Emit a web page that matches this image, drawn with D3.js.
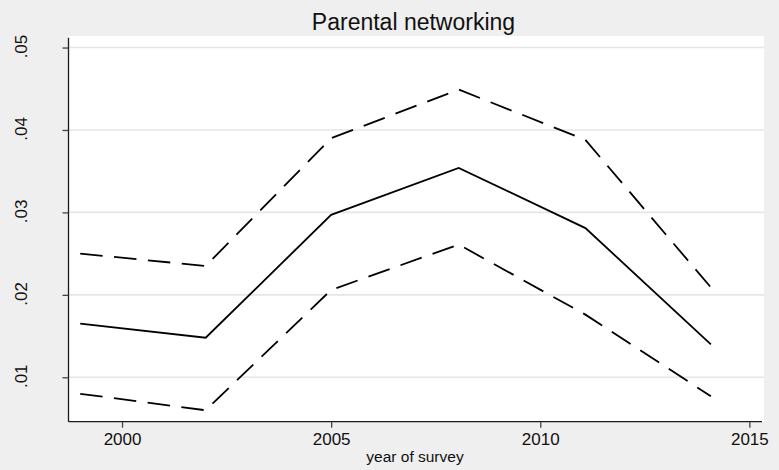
<!DOCTYPE html>
<html>
<head>
<meta charset="utf-8">
<script src="https://cdn.jsdelivr.net/npm/d3@7"></script>
<style>
  html, body { margin: 0; padding: 0; background: #efefef; }
  svg { display: block; font-family: "Liberation Sans", Arial, sans-serif; }
</style>
</head>
<body>
<svg id="chart" width="779" height="470"></svg>
<script>
// Survey years and the estimate with its upper / lower confidence bounds
const years = [1999, 2002, 2005, 2008.05, 2011.08, 2014.08];
const estimate = [0.0165, 0.0148, 0.0297, 0.0354, 0.0281, 0.0140];
const upperBound = [0.0250, 0.0235, 0.0390, 0.0449, 0.0388, 0.0209];
const lowerBound = [0.0080, 0.0060, 0.0206, 0.0261, 0.0176, 0.0077];
const xTicks = [2000, 2005, 2010, 2015];
const yTicks = [0.01, 0.02, 0.03, 0.04, 0.05];
const yTickLabels = [".01", ".02", ".03", ".04", ".05"];

const svg = d3.select("#chart");
const plot = { left: 68.5, right: 764, top: 36, bottom: 421.7 };

const x = d3.scaleLinear().domain([1998.72, 2015.35]).range([plot.left, plot.right]);
const y = d3.scaleLinear().domain([0.004612, 0.05140]).range([plot.bottom, plot.top]);

// plot region
svg.append("rect")
  .attr("x", plot.left).attr("y", plot.top)
  .attr("width", plot.right - plot.left).attr("height", plot.bottom - plot.top)
  .attr("fill", "#ffffff");

// horizontal grid
svg.append("g").selectAll("line").data(yTicks).join("line")
  .attr("x1", plot.left).attr("x2", plot.right)
  .attr("y1", d => y(d)).attr("y2", d => y(d))
  .attr("stroke", "#e6e6e6").attr("stroke-width", 1.6);

// y axis
const yAxis = svg.append("g")
  .attr("transform", `translate(${plot.left},0)`)
  .call(d3.axisLeft(y).tickValues(yTicks).tickSize(6).tickPadding(0)
    .tickFormat((d, i) => yTickLabels[i]));
yAxis.select(".domain").attr("d", `M0,${plot.top + 1.7}V${plot.bottom}`)
  .attr("stroke", "#1a1a1a").attr("stroke-width", 1.3);
yAxis.selectAll(".tick line").attr("stroke", "#444").attr("stroke-width", 1.3);
yAxis.selectAll(".tick text")
  .attr("x", null).attr("dy", null)
  .attr("text-anchor", "middle")
  .attr("transform", "translate(-42,-1.5) rotate(-90)")
  .attr("font-size", 17).attr("fill", "#111")
  .attr("font-family", "Liberation Sans, Arial, sans-serif");

// x axis
const xAxis = svg.append("g")
  .attr("transform", `translate(0,${plot.bottom})`)
  .call(d3.axisBottom(x).tickValues(xTicks).tickSize(6).tickPadding(5)
    .tickFormat(d3.format("d")));
xAxis.select(".domain").attr("d", `M${plot.left},0H${plot.right - 2}`)
  .attr("stroke", "#1a1a1a").attr("stroke-width", 1.3);
xAxis.selectAll(".tick line").attr("stroke", "#444").attr("stroke-width", 1.3);
xAxis.selectAll(".tick text")
  .attr("font-size", 17).attr("fill", "#111")
  .attr("font-family", "Liberation Sans, Arial, sans-serif");

// series
const line = d3.line().x(d => x(d[0])).y(d => y(d[1]));
const series = [
  { values: upperBound, dash: "22.5 11.5" },
  { values: lowerBound, dash: "22.5 11.5" },
  { values: estimate, dash: null }
];
svg.append("g").selectAll("path").data(series).join("path")
  .attr("d", s => line(years.map((yr, i) => [yr, s.values[i]])))
  .attr("fill", "none")
  .attr("stroke", "#000")
  .attr("stroke-width", 1.8)
  .attr("stroke-dasharray", s => s.dash);

// titles
svg.append("text")
  .attr("x", 413.5).attr("y", 29.5)
  .attr("text-anchor", "middle")
  .attr("font-size", 23).attr("fill", "#111")
  .text("Parental networking");

svg.append("text")
  .attr("x", 415).attr("y", 462)
  .attr("text-anchor", "middle")
  .attr("font-size", 15.5).attr("fill", "#111")
  .text("year of survey");
</script>
</body>
</html>
